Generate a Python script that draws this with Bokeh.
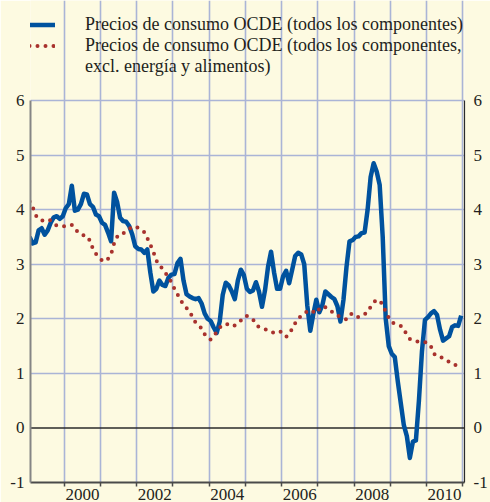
from bokeh.plotting import figure
from bokeh.models import (FixedTicker, LinearAxis, Span, Legend, LegendItem, Range1d,
                          CustomJSTickFormatter)
from bokeh.embed import file_html
from bokeh.resources import INLINE

# ---------------- data (monthly, Jan 1999 - Dec 2010) ----------------
start_year = 1999
total_all = [
    3.50, 3.38, 3.40, 3.62, 3.66, 3.54, 3.62, 3.76, 3.86, 3.88, 3.83, 3.88,   # 1999
    4.03, 4.10, 4.44, 3.98, 4.00, 4.10, 4.29, 4.28, 4.10, 4.05, 3.91, 3.88,   # 2000
    3.76, 3.72, 3.58, 3.42, 4.31, 4.14, 3.85, 3.79, 3.78, 3.70, 3.55, 3.33,   # 2001
    3.28, 3.27, 3.21, 3.27, 2.85, 2.50, 2.55, 2.70, 2.62, 2.60, 2.75, 2.81,   # 2002
    2.82, 3.02, 3.10, 2.70, 2.45, 2.41, 2.38, 2.36, 2.38, 2.28, 2.10, 2.00,   # 2003
    1.96, 1.84, 1.74, 1.95, 2.44, 2.66, 2.61, 2.50, 2.36, 2.70, 2.90, 2.80,   # 2004
    2.55, 2.49, 2.52, 2.67, 2.50, 2.22, 2.52, 2.95, 3.23, 2.85, 2.55, 2.55,   # 2005
    2.78, 2.88, 2.65, 2.90, 3.15, 3.21, 3.18, 3.00, 2.25, 1.78, 2.08, 2.35,   # 2006
    2.12, 2.25, 2.50, 2.45, 2.40, 2.36, 2.23, 1.95, 2.35, 2.95, 3.42, 3.44,   # 2007
    3.50, 3.51, 3.57, 3.58, 4.00, 4.60, 4.85, 4.70, 4.45, 3.50, 2.00, 1.50,   # 2008
    1.36, 1.30, 0.85, 0.45, 0.05, -0.15, -0.55, -0.25, -0.23, 0.50, 1.40, 1.98,  # 2009
    2.03, 2.10, 2.14, 2.07, 1.80, 1.60, 1.64, 1.68, 1.85, 1.88, 1.87, 2.06,   # 2010
]
core_excl = [
    4.15, 4.05, 3.90, 3.83, 3.80, 3.80, 3.82, 3.80, 3.74, 3.71, 3.70, 3.69,   # 1999
    3.70, 3.72, 3.72, 3.65, 3.59, 3.54, 3.53, 3.52, 3.43, 3.28, 3.19, 3.13,   # 2000
    3.07, 3.05, 3.10, 3.18, 3.38, 3.50, 3.56, 3.57, 3.59, 3.64, 3.69, 3.68,   # 2001
    3.67, 3.63, 3.59, 3.48, 3.36, 3.23, 3.07, 2.98, 2.92, 2.84, 2.76, 2.67,   # 2002
    2.55, 2.45, 2.35, 2.26, 2.20, 2.12, 2.04, 1.93, 1.87, 1.83, 1.72, 1.65,   # 2003
    1.62, 1.68, 1.76, 1.84, 1.88, 1.91, 1.89, 1.86, 1.88, 1.92, 1.97, 2.04,   # 2004
    2.05, 2.02, 1.99, 1.89, 1.85, 1.83, 1.81, 1.79, 1.76, 1.74, 1.75, 1.77,   # 2005
    1.72, 1.67, 1.72, 1.82, 1.92, 2.01, 2.05, 2.09, 2.14, 2.16, 2.13, 2.10,   # 2006
    2.18, 2.23, 2.21, 2.19, 2.14, 2.09, 2.06, 2.03, 2.01, 1.99, 2.07, 2.10,   # 2007
    2.06, 2.03, 2.06, 2.08, 2.13, 2.22, 2.30, 2.35, 2.33, 2.26, 2.13, 2.02,   # 2008
    1.94, 1.91, 1.89, 1.87, 1.80, 1.71, 1.63, 1.60, 1.59, 1.58, 1.57, 1.57,   # 2009
    1.56, 1.49, 1.36, 1.31, 1.30, 1.28, 1.25, 1.21, 1.18, 1.15, 1.18, 1.24,   # 2010
]
year_labels = [2000, 2002, 2004, 2006, 2008, 2010]
grid_years = list(range(2000, 2012))
y_ticks = [-1, 0, 1, 2, 3, 4, 5, 6]
label_total = "Precios de consumo OCDE (todos los componentes)"
label_core_1 = "Precios de consumo OCDE (todos los componentes,"
label_core_2 = "excl. energía y alimentos)"

months = [start_year + (i + 0.5) / 12 for i in range(len(total_all))]

# ---------------- style ----------------
BG = "#fdfae1"
GRID = "#aab4d6"
BLUE = "#00529e"
RED = "#a8322d"
TXT = "#231f20"
FONT = "Liberation Serif"

p = figure(width=490, height=502, output_backend="svg", toolbar_location=None,
           x_range=Range1d(1999.067, 2011.05), y_range=Range1d(-1, 7.833),
           min_border_left=30, min_border_right=22, min_border_top=0, min_border_bottom=0,
           background_fill_color=BG, border_fill_color=BG, outline_line_color=None)

# grids
p.xgrid.ticker = FixedTicker(ticks=grid_years)
p.xgrid.bounds = (-1, 6)
p.ygrid.ticker = FixedTicker(ticks=[1, 2, 3, 4, 5, 6])
for g in (p.xgrid[0], p.ygrid[0]):
    g.grid_line_color = GRID
    g.grid_line_width = 1.6

# x axis
xa = p.xaxis[0]
xa.ticker = FixedTicker(ticks=[y + 0.5 for y in year_labels], minor_ticks=grid_years)
xa.formatter = CustomJSTickFormatter(code="return Math.floor(tick).toString();")
xa.major_tick_line_color = None
xa.major_tick_out = 4
xa.major_tick_in = 0
xa.minor_tick_out = 4
xa.minor_tick_in = 0
xa.minor_tick_line_color = "#4a4a4a"
xa.minor_tick_line_width = 1.5
xa.axis_line_color = "#4a4a4a"
xa.axis_line_width = 2
xa.major_label_standoff = 2
xa.major_label_text_font = FONT
xa.major_label_text_font_size = "17px"
xa.major_label_text_color = TXT

yfmt = CustomJSTickFormatter(code="return tick.toFixed(0);")

ya = p.yaxis[0]
ya.ticker = FixedTicker(ticks=y_ticks)
ya.formatter = yfmt
ya.bounds = (-1, 6)
ya.major_tick_out = 0
ya.major_tick_in = 0
ya.minor_tick_line_color = None
ya.axis_line_color = "#858585"
ya.axis_line_width = 2
ya.major_label_standoff = 6
ya.major_label_text_font = FONT
ya.major_label_text_font_size = "17px"
ya.major_label_text_color = TXT

yr = LinearAxis(ticker=FixedTicker(ticks=y_ticks), formatter=yfmt, bounds=(-1, 6),
                major_tick_out=0, major_tick_in=0, minor_tick_line_color=None,
                axis_line_color="#2a2a2a", axis_line_width=1.2,
                major_label_standoff=9, major_label_text_font=FONT,
                major_label_text_font_size="17px", major_label_text_color=TXT)
p.add_layout(yr, "right")

p.add_layout(Span(location=0, dimension="width", line_color="#2a2a2a",
                  line_width=1.6, level="underlay"))

r_total = p.line(months, total_all, line_color=BLUE, line_width=4.5, line_join="round")
r_core = p.line(months, core_excl, line_color=RED, line_width=4, line_dash="0 8",
                line_cap="round")
r_blank = p.line(x=[], y=[], line_alpha=0)

legend = Legend(items=[LegendItem(label=label_total, renderers=[r_total]),
                       LegendItem(label=label_core_1, renderers=[r_core]),
                       LegendItem(label=label_core_2, renderers=[r_blank])],
                location=(-9, 405), orientation="vertical",
                glyph_width=34, glyph_height=21, label_height=21, spacing=0,
                padding=0, margin=0, label_standoff=30,
                label_text_font=FONT, label_text_font_size="18px",
                label_text_color=TXT, border_line_color=None,
                background_fill_alpha=0)
p.add_layout(legend)

html = file_html(p, INLINE)
html = html.replace("<body>", '<body style="margin: 0; overflow: hidden; background-color: %s;">' % BG, 1)
open("out.html", "w").write(html)
